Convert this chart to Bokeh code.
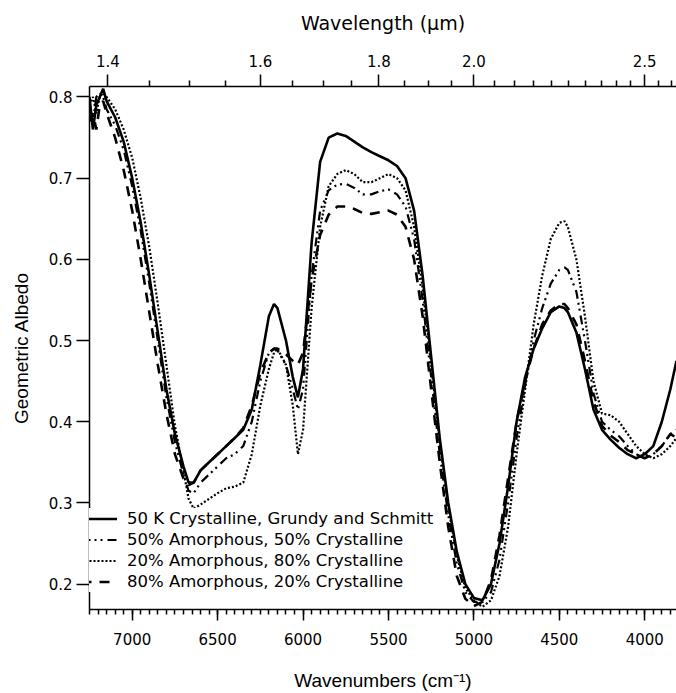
from bokeh.plotting import figure
from bokeh.models import (Range1d, LinearAxis, FixedTicker, SingleIntervalTicker,
                          CustomJSTickFormatter, NumeralTickFormatter, Legend, LegendItem)
from bokeh.embed import file_html
from bokeh.resources import INLINE

# ---------------- data ----------------
wavenumber = [7250, 7230, 7210, 7190, 7170, 7150, 7100, 7050, 7000, 6950,
              6900, 6850, 6800, 6750, 6700, 6670, 6640, 6600, 6550, 6500,
              6450, 6400, 6350, 6300, 6250, 6200, 6170, 6150, 6100, 6060,
              6030, 6000, 5950, 5900, 5850, 5800, 5750, 5700, 5650, 5600,
              5550, 5500, 5450, 5400, 5350, 5300, 5250, 5200, 5150, 5100,
              5050, 5000, 4950, 4900, 4850, 4800, 4750, 4700, 4650, 4600,
              4550, 4500, 4470, 4450, 4400, 4350, 4300, 4250, 4200, 4150,
              4100, 4050, 4000, 3950, 3900, 3850, 3814]

crystalline_gs = [0.80, 0.76, 0.79, 0.80, 0.81, 0.795, 0.775, 0.745, 0.70, 0.645,
                  0.58, 0.51, 0.44, 0.385, 0.345, 0.325, 0.325, 0.34, 0.35, 0.36,
                  0.37, 0.38, 0.39, 0.415, 0.47, 0.53, 0.545, 0.54, 0.50, 0.455,
                  0.43, 0.465, 0.62, 0.72, 0.75, 0.755, 0.752, 0.745, 0.738, 0.732,
                  0.727, 0.722, 0.715, 0.70, 0.66, 0.58, 0.48, 0.38, 0.30, 0.24,
                  0.20, 0.183, 0.18, 0.20, 0.25, 0.32, 0.40, 0.455, 0.49, 0.515,
                  0.535, 0.542, 0.54, 0.535, 0.51, 0.465, 0.415, 0.39, 0.378, 0.368,
                  0.36, 0.355, 0.36, 0.37, 0.40, 0.44, 0.475]

amorph50_cryst50 = [0.78, 0.77, 0.80, 0.805, 0.80, 0.785, 0.765, 0.735, 0.69, 0.635,
                    0.57, 0.50, 0.43, 0.375, 0.335, 0.315, 0.312, 0.325, 0.335, 0.345,
                    0.355, 0.36, 0.37, 0.40, 0.45, 0.485, 0.49, 0.488, 0.47, 0.44,
                    0.415, 0.44, 0.58, 0.66, 0.685, 0.692, 0.693, 0.688, 0.68, 0.68,
                    0.684, 0.686, 0.68, 0.665, 0.625, 0.55, 0.455, 0.36, 0.285, 0.225,
                    0.19, 0.178, 0.178, 0.19, 0.23, 0.30, 0.38, 0.445, 0.50, 0.54,
                    0.57, 0.587, 0.59, 0.587, 0.56, 0.50, 0.435, 0.40, 0.39, 0.382,
                    0.37, 0.36, 0.355, 0.36, 0.37, 0.385, 0.39]

amorph20_cryst80 = [0.79, 0.80, 0.78, 0.80, 0.805, 0.80, 0.785, 0.76, 0.725, 0.675,
                    0.615, 0.545, 0.47, 0.395, 0.34, 0.305, 0.293, 0.298, 0.305, 0.312,
                    0.318, 0.32, 0.325, 0.36, 0.42, 0.465, 0.485, 0.49, 0.47, 0.42,
                    0.36, 0.39, 0.54, 0.64, 0.69, 0.705, 0.71, 0.705, 0.695, 0.695,
                    0.70, 0.705, 0.70, 0.685, 0.64, 0.565, 0.47, 0.375, 0.295, 0.235,
                    0.195, 0.18, 0.172, 0.18, 0.21, 0.27, 0.36, 0.44, 0.52, 0.58,
                    0.625, 0.645, 0.647, 0.64, 0.60, 0.53, 0.45, 0.41, 0.408, 0.40,
                    0.385, 0.37, 0.36, 0.355, 0.36, 0.37, 0.38]

amorph80_cryst20 = [0.77, 0.78, 0.76, 0.79, 0.795, 0.78, 0.75, 0.71, 0.66, 0.60,
                    0.535, 0.47, 0.41, 0.36, 0.33, 0.322, 0.325, 0.34, 0.35, 0.36,
                    0.37, 0.38, 0.392, 0.42, 0.46, 0.485, 0.49, 0.49, 0.483, 0.475,
                    0.47, 0.485, 0.575, 0.63, 0.655, 0.665, 0.665, 0.662, 0.657, 0.656,
                    0.658, 0.66, 0.655, 0.64, 0.60, 0.53, 0.44, 0.35, 0.27, 0.21,
                    0.182, 0.173, 0.178, 0.205, 0.26, 0.33, 0.40, 0.45, 0.49, 0.52,
                    0.537, 0.545, 0.545, 0.54, 0.52, 0.475, 0.425, 0.395, 0.383, 0.375,
                    0.365, 0.36, 0.355, 0.36, 0.37, 0.385, 0.38]

series_labels = ["50 K Crystalline, Grundy and Schmitt",
                 "50% Amorphous, 50% Crystalline",
                 "20% Amorphous, 80% Crystalline",
                 "80% Amorphous, 20% Crystalline"]

wl_major = [1.4, 1.6, 1.8, 2.0, 2.5]
wl_minor = [1.45, 1.5, 1.55, 1.65, 1.7, 1.75, 1.85, 1.9, 1.95, 2.05, 2.1, 2.15,
            2.2, 2.25, 2.3, 2.35, 2.4, 2.45, 2.55, 2.6]

# ---------------- figure ----------------
TICK_FONT = "DejaVu Sans"
p = figure(width=676, height=693, output_backend="svg", toolbar_location=None,
           x_range=Range1d(7250, 3814), y_range=Range1d(0.1687, 0.8129),
           min_border_left=89, min_border_right=0, min_border_top=86,
           min_border_bottom=82, x_axis_location=None, y_axis_location=None)
p.grid.visible = False
p.outline_line_color = None
p.background_fill_color = "white"
p.border_fill_color = "white"


def style_axis(ax, title_font):
    ax.major_label_text_font = TICK_FONT
    ax.major_label_text_font_size = "15px"
    ax.major_label_text_color = "black"
    ax.axis_label_text_font = title_font
    ax.axis_label_text_font_style = "normal"
    ax.axis_label_text_font_size = "19px"
    ax.axis_label_text_color = "black"
    ax.axis_line_color = "black"
    ax.major_tick_line_color = "black"
    ax.minor_tick_line_color = "black"
    ax.axis_line_width = 1.5
    ax.major_tick_line_width = 1.5
    ax.minor_tick_line_width = 1.5


# bottom axis (wavenumbers)
bx = LinearAxis(ticker=SingleIntervalTicker(interval=500, num_minor_ticks=10),
                axis_label="Wavenumbers (cm⁻¹)")
style_axis(bx, "Liberation Sans")
bx.major_tick_out = 11
bx.major_tick_in = 0
bx.minor_tick_out = 5
bx.minor_tick_in = 0
bx.major_label_standoff = 12
bx.axis_label_standoff = 22
p.add_layout(bx, "below")

# top axis (wavelength)
tx = LinearAxis(ticker=FixedTicker(ticks=[10000.0 / w for w in wl_major],
                                   minor_ticks=[10000.0 / w for w in wl_minor]),
                formatter=CustomJSTickFormatter(code="return (10000/tick).toFixed(1);"),
                axis_label="Wavelength (μm)")
style_axis(tx, TICK_FONT)
tx.major_tick_out = 12
tx.major_tick_in = 0
tx.minor_tick_out = 6
tx.minor_tick_in = 0
tx.major_label_standoff = 8
tx.axis_label_standoff = 18
p.add_layout(tx, "above")

# left axis
ly = LinearAxis(ticker=SingleIntervalTicker(interval=0.1, num_minor_ticks=0),
                formatter=NumeralTickFormatter(format="0.0"),
                axis_label="Geometric Albedo")
style_axis(ly, "Liberation Sans")
ly.major_tick_out = 13
ly.major_tick_in = 0
ly.minor_tick_out = 0
ly.minor_tick_in = 0
ly.major_label_standoff = 4
ly.axis_label_standoff = 14
p.add_layout(ly, "left")

# ---------------- lines ----------------
r1 = p.line(wavenumber, crystalline_gs, line_color="black", line_width=2.6)
r2 = p.line(wavenumber, amorph50_cryst50, line_color="black", line_width=2.2,
            line_dash="9 4 2 4 2 5")
r3 = p.line(wavenumber, amorph20_cryst80, line_color="black", line_width=2.2,
            line_dash="2 2")
r4 = p.line(wavenumber, amorph80_cryst20, line_color="black", line_width=2.6,
            line_dash="10 8")

legend = Legend(items=[LegendItem(label=series_labels[0], renderers=[r1]),
                       LegendItem(label=series_labels[1], renderers=[r2]),
                       LegendItem(label=series_labels[2], renderers=[r3]),
                       LegendItem(label=series_labels[3], renderers=[r4])],
                location=(-8, 17), padding=0, margin=0, spacing=0,
                glyph_width=36, glyph_height=21, label_height=21,
                label_standoff=10, label_text_font=TICK_FONT,
                label_text_font_size="16.5px", label_text_color="black",
                border_line_color=None,
                background_fill_color="white", background_fill_alpha=1.0)
p.add_layout(legend, "center")

open("out.html", "w").write(file_html(p, INLINE))
